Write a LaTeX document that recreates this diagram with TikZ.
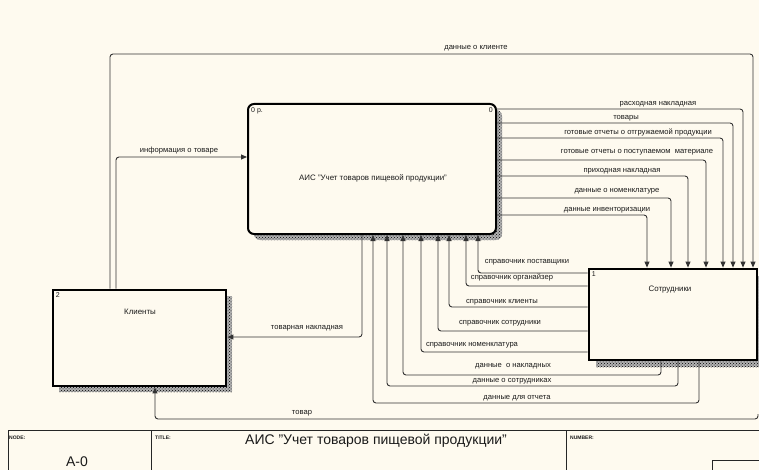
\documentclass[tikz,border=0pt]{standalone}
\usepackage{fontspec}
\setmainfont{Liberation Sans}
\setsansfont{Liberation Sans}
\usetikzlibrary{arrows.meta,patterns}
\definecolor{DiagPaper}{HTML}{FEFAEF}
\definecolor{DiagInk}{HTML}{1A1A1A}
\definecolor{DiagLine}{HTML}{333333}

\begin{document}
\begin{tikzpicture}[x=1pt,y=-1pt,font=\sffamily,>={Triangle[length=6pt,width=5pt]}]
\tikzset{
  flowlabel/.style={font=\fontsize{7.6}{9}\selectfont,text=DiagInk,inner sep=0pt},
  boxtext/.style={font=\fontsize{7.9}{9}\selectfont,text=DiagInk,inner sep=0pt},
  corner/.style={font=\fontsize{7}{8}\selectfont,text=DiagInk,inner sep=0pt},
  block/.style={draw=black,line width=2.8pt,fill=DiagPaper,inner sep=0pt},
  shadow/.style={preaction={fill=black!30},pattern=crosshatch dots,pattern color=black},
  flow/.style={draw=DiagLine,line width=0.9pt,rounded corners=3pt,->},
  frame/.style={draw=black!85,line width=1pt},
  tiny/.style={font=\bfseries\fontsize{5}{6}\selectfont,text=DiagInk,anchor=west,inner sep=0pt},
  titletext/.style={font=\fontsize{14}{16}\selectfont,text=DiagInk,inner sep=0pt}
}
\useasboundingbox (0,0) rectangle (759,470);
\fill[DiagPaper] (0,0) rectangle (759,470);

% blocks
\fill[shadow,rounded corners=6pt] (254,110) rectangle (502,240);
\node[block,line width=2pt,rounded corners=6pt,minimum width=248pt,minimum height=130pt] (ais) at (372,169) {};
\fill[shadow] (59,296) rectangle (232,392);
\node[block,minimum width=173pt,minimum height=96pt] (cli) at (139.5,338) {};
\fill[shadow] (596,276) rectangle (759,367);
\node[block,minimum width=168pt,minimum height=91pt] (emp) at (673,314.5) {};

\node[corner,anchor=north west] (aisnum) at ([shift={(4,4)}]ais.north west) {0 р.};
\node[corner,anchor=north east] (aiscost) at ([shift={(-4,4)}]ais.north east) {0};
\node[boxtext] (aistext) at (373,178) {АИС "Учет товаров пищевой продукции"};
\node[corner,anchor=north west] (clinum) at ([shift={(4,4)}]cli.north west) {2};
\node[boxtext] (clitext) at (140,312) {Клиенты};
\node[corner,anchor=north west] (empnum) at ([shift={(4,4)}]emp.north west) {1};
\node[boxtext] (emptext) at (670,290) {Сотрудники};

% outputs of the system to the staff
\draw[flow] (ais.east |- 0,109) -| (emp.north -| 743,0);
\draw[flow] (ais.east |- 0,123) -| (emp.north -| 733,0);
\draw[flow] (ais.east |- 0,138) -| (emp.north -| 723,0);
\draw[flow] (ais.east |- 0,160) -| (emp.north -| 706,0);
\draw[flow] (ais.east |- 0,176) -| (emp.north -| 688,0);
\draw[flow] (ais.east |- 0,198) -| (emp.north -| 671,0);
\draw[flow] (ais.east |- 0,215) -| (emp.north -| 647,0);
\node[flowlabel] (o1) at (658,104) {расходная накладная};
\node[flowlabel] (o2) at (626,118) {товары};
\node[flowlabel] (o3) at (638,132) {готовые отчеты о отгружаемой продукции};
\node[flowlabel] (o4) at (637,152) {готовые отчеты о поступаемом\ \ материале};
\node[flowlabel] (o5) at (622,171) {приходная накладная};
\node[flowlabel] (o6) at (617,191) {данные о номенклатуре};
\node[flowlabel] (o7) at (607,210) {данные инвенторизации};

% client flows
\draw[flow] (cli.north -| 110,0) -- (110,54) -| (emp.north -| 753,0);
\node[flowlabel] (k1) at (476,48) {данные о клиенте};
\draw[flow] (cli.north -| 116,0) |- (ais.west |- 0,157);
\node[flowlabel] (k2) at (179,151) {информация о товаре};
\draw[flow] (ais.south -| 362,0) |- (cli.east |- 0,337);
\node[flowlabel] (k3) at (307,328) {товарная накладная};
\coordinate (tovar) at (758,414);
\draw[flow] (tovar) |- (155,419) -- (cli.south -| 155,0);
\node[flowlabel] (k4) at (302,413) {товар};

% references from the staff
\draw[flow] (emp.west |- 0,273) -| (ais.south -| 478,0);
\draw[flow] (emp.west |- 0,286) -| (ais.south -| 466,0);
\draw[flow] (emp.west |- 0,307) -| (ais.south -| 449,0);
\draw[flow] (emp.west |- 0,331) -| (ais.south -| 438,0);
\draw[flow] (emp.west |- 0,352) -| (ais.south -| 421,0);
\node[flowlabel] (r1) at (527,262) {справочник поставщики};
\node[flowlabel] (r2) at (512,277) {справочник органайзер};
\node[flowlabel] (r3) at (502,302) {справочник клиенты};
\node[flowlabel] (r4) at (500,323) {справочник сотрудники};
\node[flowlabel] (r5) at (472,345) {справочник номенклатура};

\draw[flow] (emp.south -| 661,0) -- (661,375) -| (ais.south -| 403,0);
\draw[flow] (emp.south -| 678,0) -- (678,386) -| (ais.south -| 387,0);
\draw[flow] (emp.south -| 699,0) -- (699,403) -| (ais.south -| 373,0);
\node[flowlabel] (d1) at (513,366) {данные\ \ о накладных};
\node[flowlabel] (d2) at (512,381) {данные о сотрудниках};
\node[flowlabel] (d3) at (517,398) {данные для отчета};

% title block
\draw[frame] (8,470) -- (8,430) -- (759,430);
\draw[frame] (151,430) -- (151,470);
\draw[frame] (566,430) -- (566,470);
\draw[frame] (712,470) -- (712,460) -- (759,460);
\node[tiny] (nodehd) at (9,438) {NODE:};
\node[tiny] (titlehd) at (155,438) {TITLE:};
\node[tiny] (numhd) at (570,438) {NUMBER:};
\node[titletext] (nodeid) at (77,462) {A-0};
\node[titletext] (title) at (376,441) {АИС "Учет товаров пищевой продукции"};
\end{tikzpicture}
\end{document}
